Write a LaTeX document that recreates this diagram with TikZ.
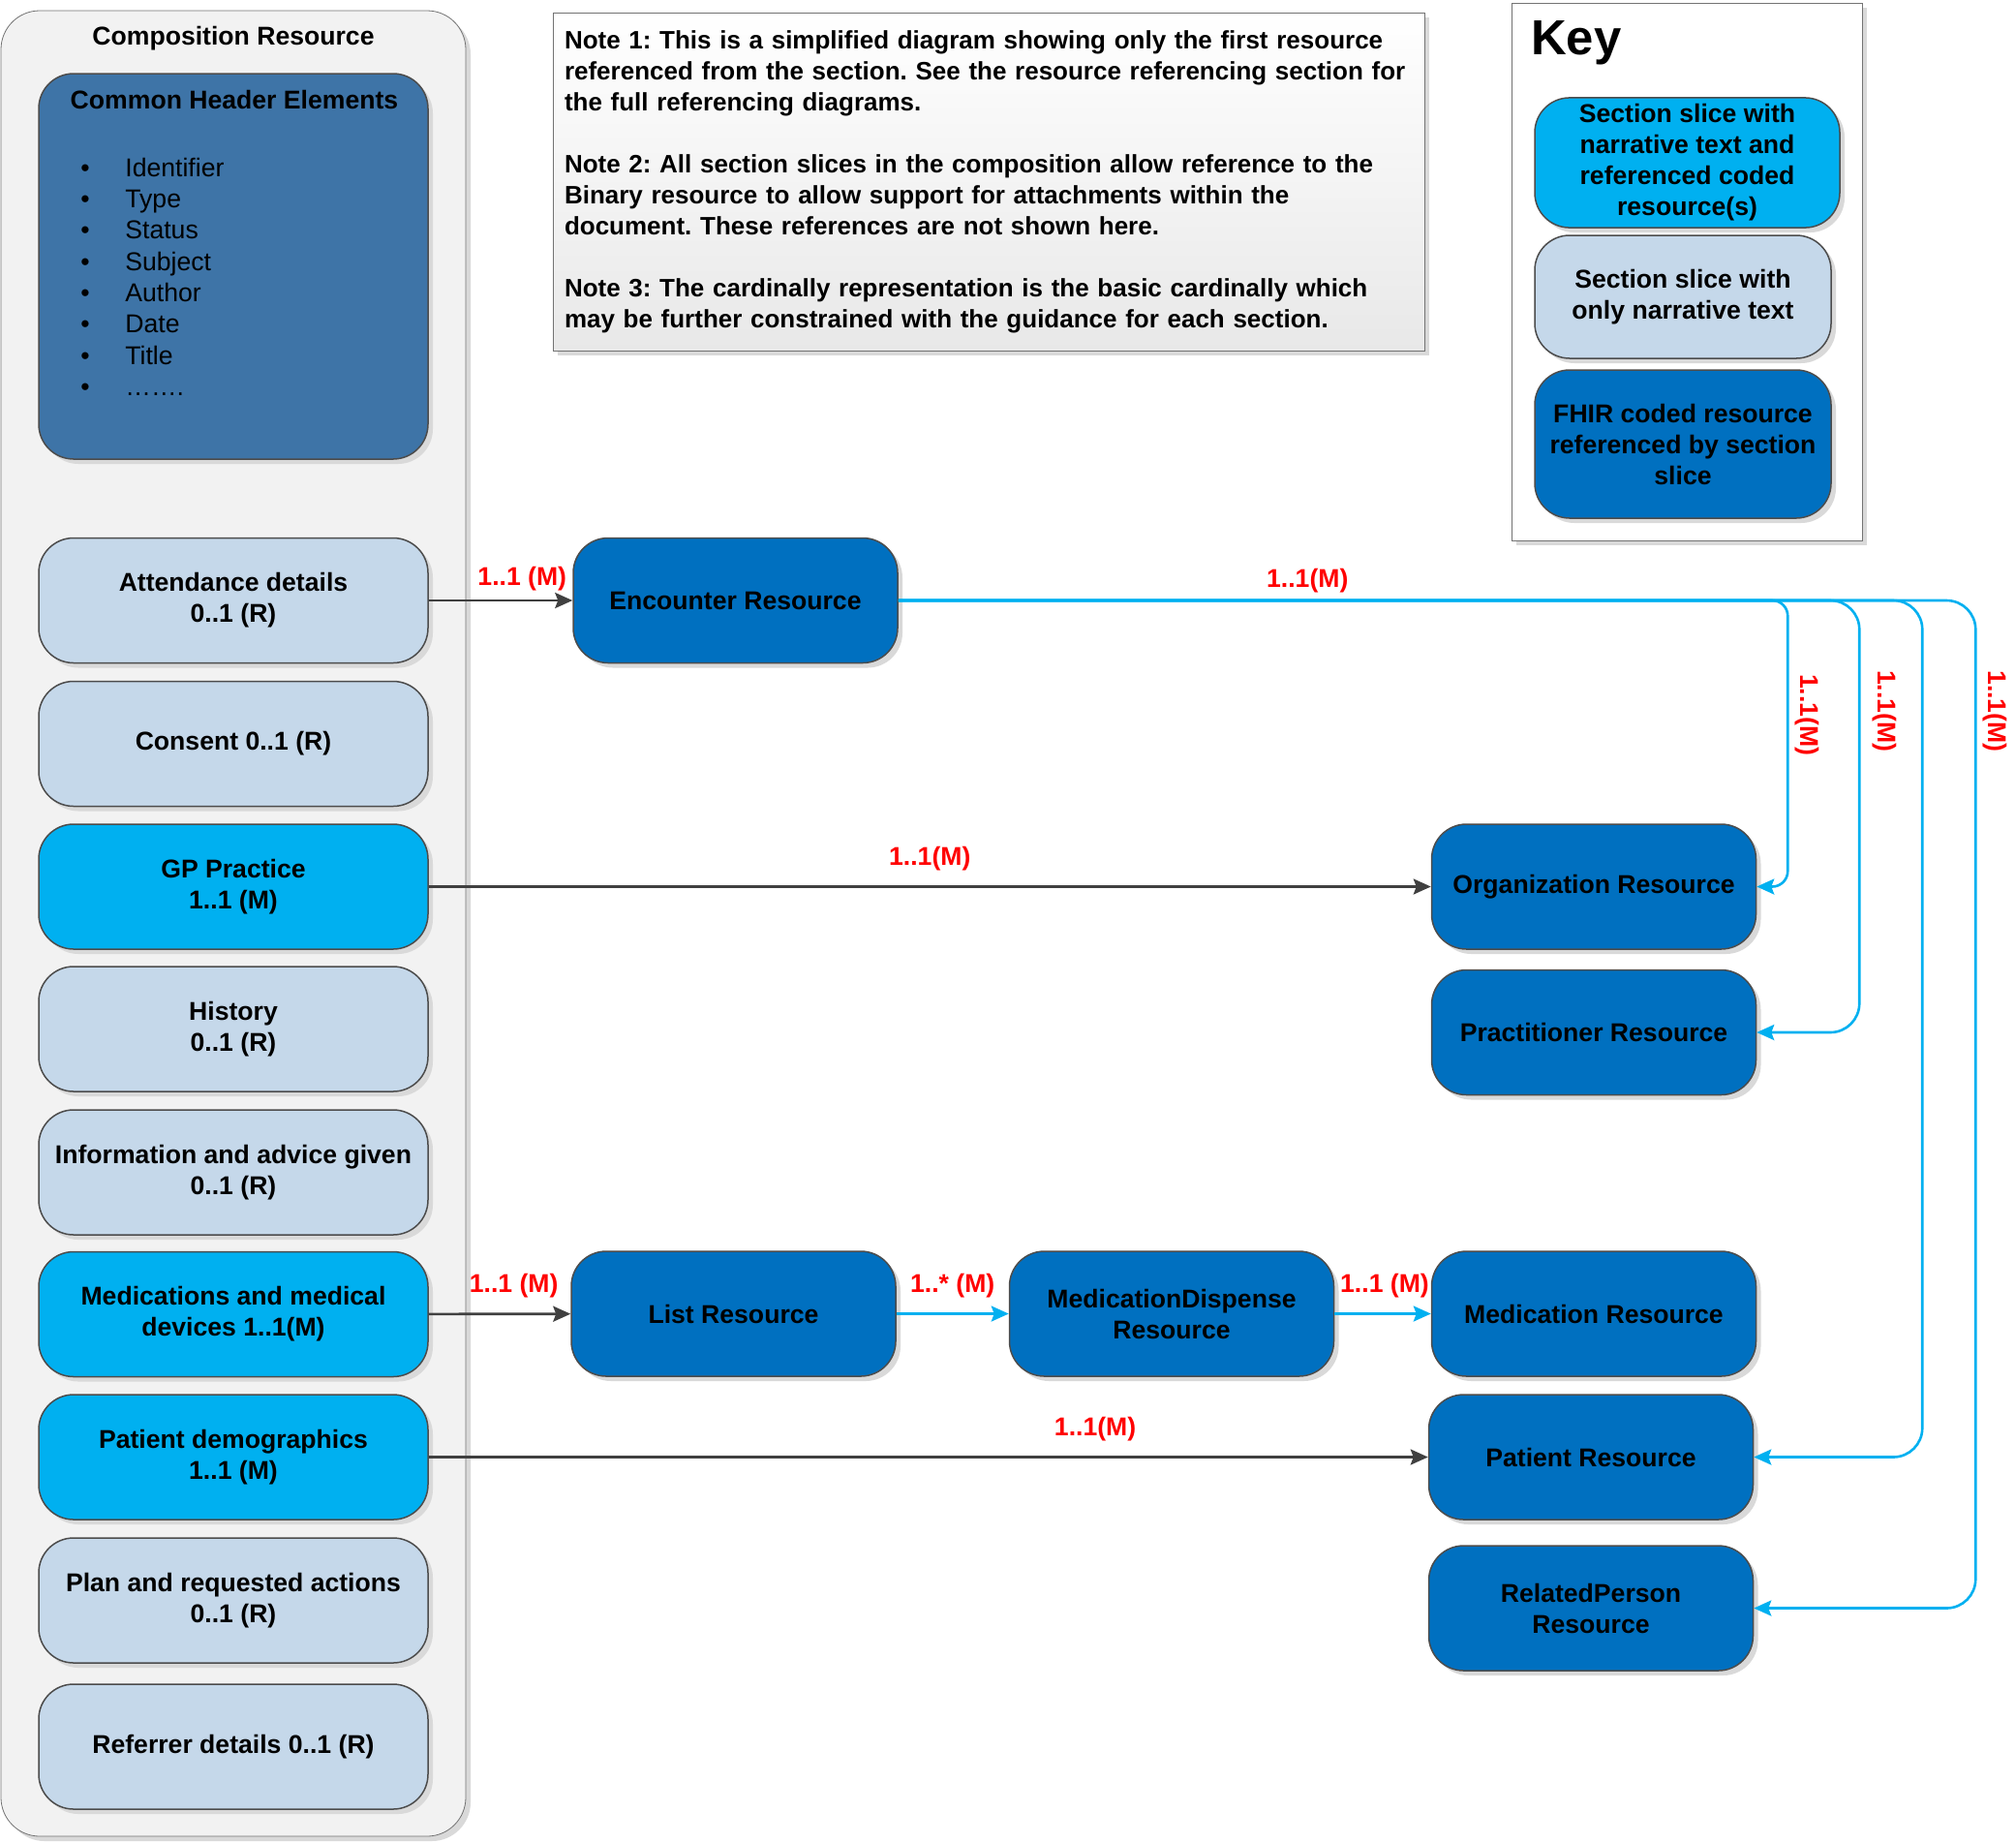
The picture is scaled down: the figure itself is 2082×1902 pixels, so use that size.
\documentclass[tikz,border=0pt]{standalone}
\usepackage{fontspec}
\setmainfont{Liberation Sans}
\usepackage{xcolor}
\usepackage{tikz}
\usetikzlibrary{arrows.meta, shadows, calc}
\frenchspacing

\definecolor{sliceblue}{RGB}{0,176,240}
\definecolor{slicegrey}{RGB}{197,216,234}
\definecolor{fhirblue}{RGB}{0,112,192}
\definecolor{headerblue}{RGB}{62,116,167}
\definecolor{panelgrey}{RGB}{242,242,242}
\definecolor{linegrey}{RGB}{64,64,64}
\definecolor{cardred}{RGB}{255,0,0}

\tikzset{
  softshadow/.style={drop shadow={shadow xshift=2.5pt, shadow yshift=-2.5pt, fill=black!15, opacity=1}},
  box/.style={draw=black!70, line width=0.75pt, rounded corners=18pt, align=center,
    font=\fontsize{13.3}{16}\selectfont\bfseries, softshadow},
  slice/.style={box, fill=slicegrey, minimum width=201pt, minimum height=64.5pt},
  codedslice/.style={slice, fill=sliceblue},
  resource/.style={box, fill=fhirblue, minimum width=167.5pt, minimum height=64.5pt},
  card/.style={text=cardred, font=\fontsize{13.3}{16}\selectfont\bfseries, inner sep=1.5pt},
  refline/.style={draw=linegrey, line width=1.3pt, -{Stealth[length=9pt, width=8pt, inset=1.5pt]}},
  linkline/.style={draw=sliceblue, line width=1.3pt, rounded corners=15pt,
    -{Stealth[length=9pt, width=8pt, inset=1.5pt]}},
}

\begin{document}
\begin{tikzpicture}[x=0.5pt, y=-0.5pt, every node/.style={font=\fontsize{13.3}{16}\selectfont}]
    \useasboundingbox (0,0) rectangle (2082,1902);

    % composition panel
    \node[draw=black!55, fill=panelgrey, rounded corners=20pt, minimum width=240pt, minimum height=942.5pt, softshadow] (comp) at (241,953.5) {};
    \node[font=\fontsize{13.3}{16}\selectfont\bfseries] (comptitle) at (241,40) {Composition Resource};

    \node[box, fill=headerblue, minimum width=201pt, minimum height=199pt] (header) at (241,275) {};
    \node[font=\fontsize{13.3}{16}\selectfont\bfseries] (headertitle) at (242,103) {Common Header Elements};
    \foreach \field [count=\i] in {Identifier, Type, Status, Subject, Author, Date, Title, …….} {
        \node[anchor=base, inner sep=0pt] (dot\i) at (88,{150+32.3*\i}) {\textbullet};
        \node[anchor=base west, inner sep=0pt] (field\i) at (129,{150+32.3*\i}) {\field};
    }

    % section slices
    \node[slice] (attend) at (241,620) {Attendance details\\0..1 (R)};
    \node[slice] (consent) at (241,768) {Consent 0..1 (R)};
    \node[codedslice] (gp) at (241,915.5) {GP Practice\\1..1 (M)};
    \node[slice] (history) at (241,1062.5) {History\\0..1 (R)};
    \node[slice] (advice) at (241,1210.5) {Information and advice given\\0..1 (R)};
    \node[codedslice] (meds) at (241,1357) {Medications and medical\\devices 1..1(M)};
    \node[codedslice] (demog) at (241,1504.5) {Patient demographics\\1..1 (M)};
    \node[slice] (plan) at (241,1652.5) {Plan and requested actions\\0..1 (R)};
    \node[slice] (referrer) at (241,1803.5) {Referrer details 0..1 (R)};

    % note
    \node[draw=black!55, top color=white, bottom color=black!9, minimum width=450pt, minimum height=174.5pt,
        inner xsep=6pt, text width=438pt, align=left, font=\fontsize{13}{16}\selectfont\bfseries, softshadow] (note) at (1021,187.5)
        {Note 1: This is a simplified diagram showing only the first resource\\
         referenced from the section. See the resource referencing section for\\
         the full referencing diagrams.\\[16pt]
         Note 2: All section slices in the composition allow reference to the\\
         Binary resource to allow support for attachments within the\\
         document. These references are not shown here.\\[16pt]
         Note 3: The cardinally representation is the basic cardinally which\\
         may be further constrained with the guidance for each section.};

    % key
    \node[draw=black!55, fill=white, minimum width=181pt, minimum height=277.5pt, softshadow] (keybox) at (1742,280.5) {};
    \node[anchor=west, font=\fontsize{25.4}{30}\selectfont\bfseries] (keytitle) at (1574,44) {Key};
    \node[codedslice, minimum width=157.5pt, minimum height=63.5pt] (keycoded) at (1742.5,168)
        {Section slice with\\narrative text and\\referenced coded\\resource(s)};
    \node[slice, minimum width=153pt, minimum height=63.5pt] (keytext) at (1738,306.5)
        {Section slice with\\only narrative text};
    \node[resource, minimum width=153pt, minimum height=76.5pt] (keyfhir) at (1738,458.5)
        {FHIR coded resource\\referenced by section\\slice};

    % resources
    \node[resource] (enc) at (759.5,620) {Encounter Resource};
    \node[resource] (org) at (1646,915.5) {Organization Resource};
    \node[resource] (prac) at (1646,1066) {Practitioner Resource};
    \node[resource] (list) at (757.5,1356.5) {List Resource};
    \node[resource] (disp) at (1210,1356.5) {MedicationDispense\\Resource};
    \node[resource] (med) at (1646,1356.5) {Medication Resource};
    \node[resource] (pat) at (1643,1504.5) {Patient Resource};
    \node[resource] (rel) at (1643,1660.5) {RelatedPerson\\Resource};

    % references
    \draw[refline] (attend) -- node[card, above=3pt, pos=0.65] {1..1 (M)} (enc);
    \draw[refline] (gp) -- node[card, above=6pt, pos=0.5] {1..1(M)} (org);
    \draw[refline] (meds) -- node[card, above=6pt, pos=0.6] {1..1 (M)} (list);
    \draw[linkline] (list) -- node[card, above=6pt, pos=0.5] {1..* (M)} (disp);
    \draw[linkline] (disp) -- node[card, above=6pt, pos=0.52] {1..1 (M)} (med);
    \draw[refline] (demog) -- node[card, above=6pt, pos=0.667] {1..1(M)} (pat);

    \draw[linkline, rounded corners=8pt] (enc.east) -| node[card, above=2pt, pos=0.23] {1..1(M)}
        node[card, rotate=-90, anchor=south, inner sep=3pt, pos=0.7] {1..1(M)} ($(org.east)+(32,0)$) -- (org.east);
    \draw[linkline] (enc.east) -| node[card, rotate=-90, anchor=south, inner sep=6pt, pos=0.628] {1..1(M)}
        ($(prac.east)+(106,0)$) -- (prac.east);
    \draw[linkline] (enc.east) -| ($(pat.east)+(174,0)$) -- (pat.east);
    \draw[linkline] (enc.east) -| node[card, rotate=-90, anchor=south, inner sep=3pt, pos=0.555] {1..1(M)}
        ($(rel.east)+(229,0)$) -- (rel.east);
\end{tikzpicture}
\end{document}
